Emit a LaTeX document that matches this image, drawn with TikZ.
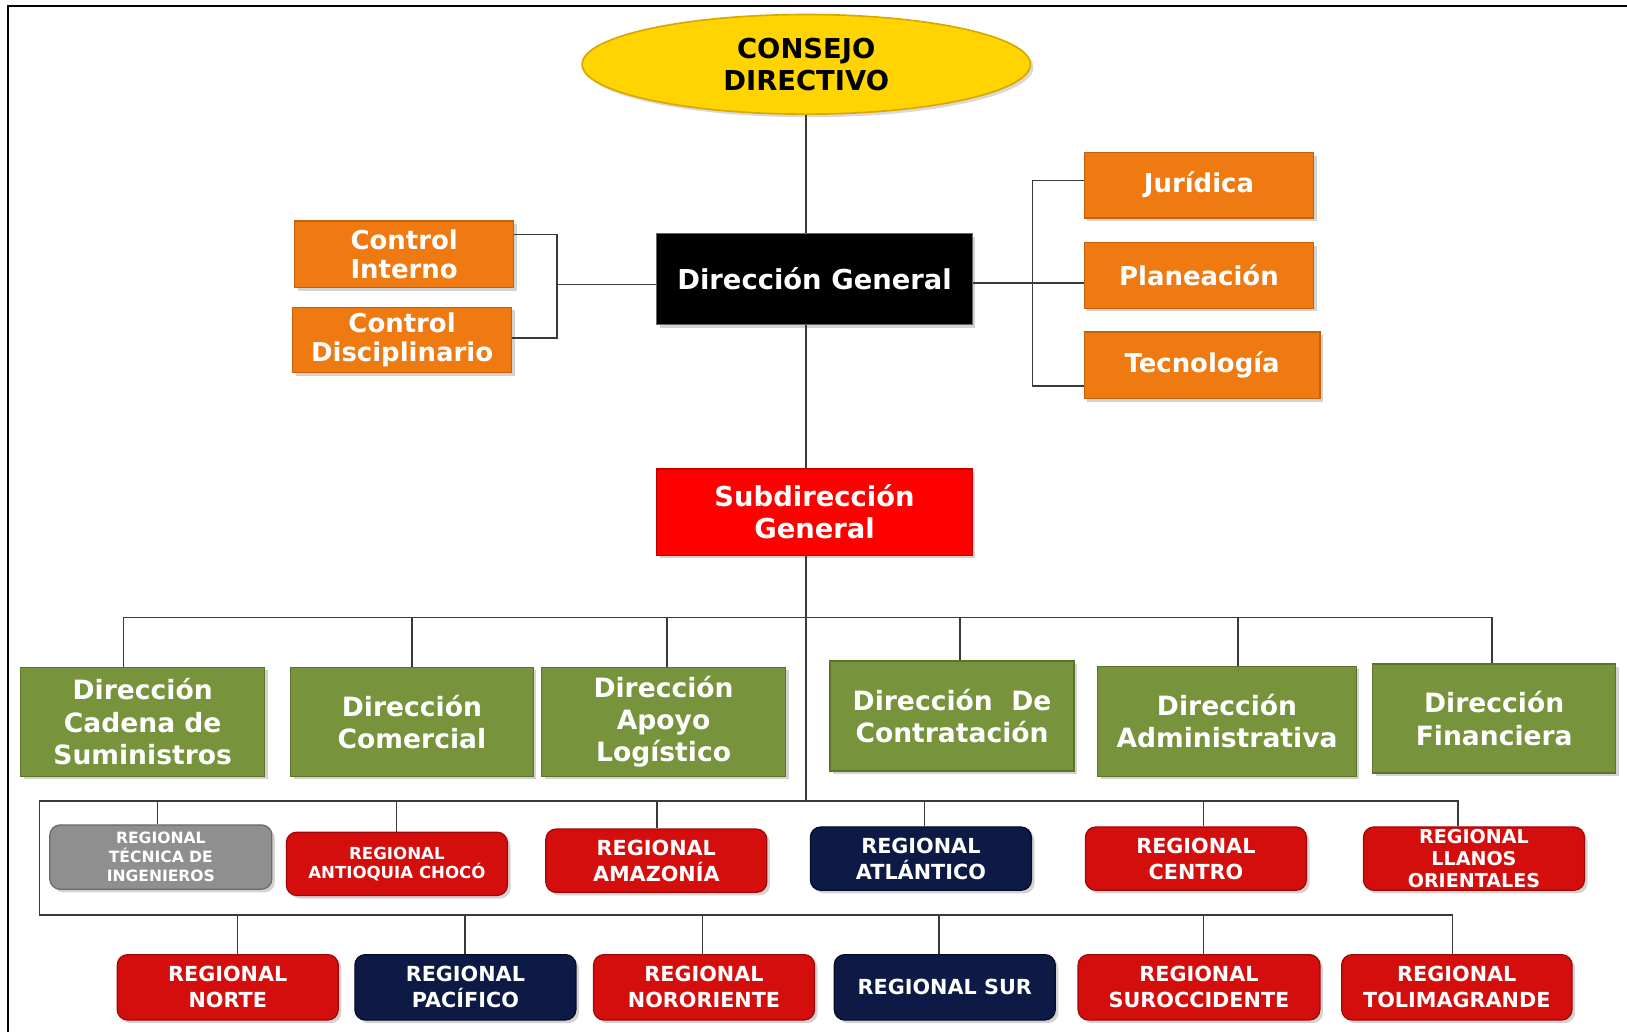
\documentclass[tikz,border=0pt]{standalone}
\usepackage{fontspec}
\setmainfont{DejaVu Sans}
\usetikzlibrary{shapes.geometric,shadows,calc}
\definecolor{grnF}{HTML}{77933C}
\definecolor{grnD}{HTML}{5A7428}
\definecolor{orgF}{HTML}{F07A12}
\definecolor{orgD}{HTML}{C8600A}
\definecolor{redF}{HTML}{FF0000}
\definecolor{redD}{HTML}{C00000}
\definecolor{regF}{HTML}{D40D0D}
\definecolor{regD}{HTML}{A00808}
\definecolor{navF}{HTML}{0C1A45}
\definecolor{navD}{HTML}{050C25}
\definecolor{gryF}{HTML}{8F8F8F}
\definecolor{gryD}{HTML}{6A6A6A}
\definecolor{yelF}{HTML}{FFD400}
\definecolor{yelD}{HTML}{D9A800}
\definecolor{lineC}{HTML}{3A3A3A}
\newcommand\bx[7]{\node[#2, minimum width={(#5-#3)*0.5pt}, minimum height={(#6-#4)*0.5pt}] (#1) at ({(#3+#5)/2},{(#4+#6)/2}) {#7};}
\tikzset{
  conn/.style={draw=lineC, line width=0.75pt},
  base/.style={draw, line width=0.6pt, align=center, inner sep=0pt, text=white,
    drop shadow={shadow xshift=1.5pt, shadow yshift=-1.5pt, opacity=0.35}},
  orgbox/.style={base, fill=orgF, draw=orgD, font=\bfseries\fontsize{12.5}{14}\selectfont},
  dgbox/.style={base, fill=black, draw=black!60, font=\bfseries\fontsize{13.2}{15.5}\selectfont},
  subbox/.style={base, fill=redF, draw=redD, font=\bfseries\fontsize{13.2}{15.5}\selectfont},
  grnbox/.style={base, fill=grnF, draw=grnD, font=\bfseries\fontsize{12.8}{15.5}\selectfont},
  regbase/.style={base, rounded corners=5pt, font=\bfseries\fontsize{10}{12.5}\selectfont},
  regred/.style={regbase, fill=regF, draw=regD},
  regnav/.style={regbase, fill=navF, draw=navD},
  reggry/.style={regbase, fill=gryF, draw=gryD},
  small/.style={font=\bfseries\fontsize{7.5}{9.2}\selectfont},
  smallb/.style={font=\bfseries\fontsize{8}{9}\selectfont},
  smallc/.style={font=\bfseries\fontsize{9.2}{10.75}\selectfont},
}
\begin{document}
\begin{tikzpicture}[x=0.5pt,y=-0.5pt]
\useasboundingbox (0,0) rectangle (1568,995);
% frame
\coordinate (fTL) at (8,6);
\coordinate (fTR) at (1568,6);
\coordinate (fBL) at (8,995);
\draw[black, line width=1.1pt] (fTR) -- (fTL) -- (fBL);

% top
\node[ellipse, draw=yelD, line width=0.8pt, fill=yelF, minimum width=432*0.5pt, minimum height=96*0.5pt,
  inner sep=0pt, align=center, font=\bfseries\fontsize{13.2}{15.5}\selectfont,
  drop shadow={shadow xshift=1.5pt, shadow yshift=-1.5pt, opacity=0.3}] (cons) at (777,62) {CONSEJO\\DIRECTIVO};
\bx{dg}{dgbox}{633}{225}{937}{313}{Dirección General}
\bx{ci}{orgbox}{284}{213}{495}{277}{Control\\Interno}
\bx{cd}{orgbox}{282}{296}{493}{359}{Control\\Disciplinario}
\bx{jur}{orgbox}{1045}{147}{1266}{210}{Jurídica}
\bx{pla}{orgbox}{1045}{234}{1266}{297}{Planeación}
\bx{tec}{orgbox}{1045}{320}{1272}{384}{Tecnología}
\bx{sub}{subbox}{633}{452}{937}{535}{Subdirección\\General}

% green row
\bx{dcad}{grnbox}{20}{643}{255}{748}{Dirección\\Cadena de\\Suministros}
\bx{dcom}{grnbox}{280}{643}{514}{748}{Dirección\\Comercial}
\bx{dapo}{grnbox}{522}{643}{757}{748}{Dirección\\Apoyo\\Logístico}
\bx{dcon}{grnbox}{800}{637}{1035}{743}{Dirección\ \ De\\Contratación}
\bx{dadm}{grnbox}{1058}{642}{1307}{748}{Dirección\\Administrativa}
\bx{dfin}{grnbox}{1323}{640}{1557}{745}{Dirección\\Financiera}

% regional row 1
\bx{rtec}{reggry,small}{48}{795}{262}{857}{REGIONAL\\TÉCNICA DE\\INGENIEROS}
\bx{rant}{regred,smallb}{276}{802}{489}{863}{REGIONAL\\ANTIOQUIA CHOCÓ}
\bx{rama}{regred}{526}{799}{739}{860}{REGIONAL\\AMAZONÍA}
\bx{ratl}{regnav}{781}{797}{994}{858}{REGIONAL\\ATLÁNTICO}
\bx{rcen}{regred}{1046}{797}{1259}{858}{REGIONAL\\CENTRO}
\bx{rlla}{regred,smallc}{1314}{797}{1527}{858}{REGIONAL\\LLANOS\\ORIENTALES}

% regional row 2
\bx{rnor}{regred}{113}{920}{326}{983}{REGIONAL\\NORTE}
\bx{rpac}{regnav}{342}{920}{555}{983}{REGIONAL\\PACÍFICO}
\bx{rnoro}{regred}{572}{920}{785}{983}{REGIONAL\\NORORIENTE}
\bx{rsur}{regnav}{804}{920}{1017}{983}{REGIONAL SUR}
\bx{rsuro}{regred}{1039}{920}{1272}{983}{REGIONAL\\SUROCCIDENTE}
\bx{rtol}{regred}{1293}{920}{1515}{983}{REGIONAL\\TOLIMAGRANDE}

% spine
\draw[conn] (cons.south) -- (cons.south |- dg.north);
\draw[conn] (cons.south |- dg.south) -- (cons.south |- sub.north);

% left bracket
\coordinate (lbT) at (537,226);
\coordinate (lbB) at (537,326);
\coordinate (lbM) at (537,274);
\draw[conn] (lbT -| ci.east) -- (lbT) -- (lbB) -- (lbB -| cd.east);
\draw[conn] (lbM) -- (lbM -| dg.west);

% right bracket
\coordinate (rbT) at (995,174);
\coordinate (rbM) at (995,273);
\coordinate (rbB) at (995,372);
\draw[conn] (rbT -| jur.west) -- (rbT) -- (rbB) -- (rbB -| tec.west);
\draw[conn] (rbM -| dg.east) -- (rbM -| pla.west);

% bus 1
\coordinate (b1L) at (119,595);
\coordinate (b1R) at (1438,595);
\coordinate (b2) at (777,772);
\draw[conn] (cons.south |- sub.south) -- (b2);
\draw[conn] (b1L) -- (b1R);
\coordinate (t1) at (119,595);
\coordinate (t2) at (397,595);
\coordinate (t3) at (643,595);
\coordinate (t4) at (925,595);
\coordinate (t5) at (1193,595);
\coordinate (t6) at (1438,595);
\draw[conn] (t1) -- (t1 |- dcad.north);
\draw[conn] (t2) -- (t2 |- dcom.north);
\draw[conn] (t3) -- (t3 |- dapo.north);
\draw[conn] (t4) -- (t4 |- dcon.north);
\draw[conn] (t5) -- (t5 |- dadm.north);
\draw[conn] (t6) -- (t6 |- dfin.north);

% bus 2 and 3
\coordinate (b2L) at (38,772);
\coordinate (b2R) at (1405,772);
\coordinate (b3L) at (38,882);
\coordinate (b3R) at (1400,882);
\draw[conn] (b3L) -- (b2L) -- (b2R) -- (b2R |- rlla.north);
\draw[conn] (b3L) -- (b3R) -- (b3R |- rtol.north);
\coordinate (u1) at (152,772);
\coordinate (u2) at (382,772);
\coordinate (u3) at (633,772);
\coordinate (u4) at (891,772);
\coordinate (u5) at (1160,772);
\draw[conn] (u1) -- (u1 |- rtec.north);
\draw[conn] (u2) -- (u2 |- rant.north);
\draw[conn] (u3) -- (u3 |- rama.north);
\draw[conn] (u4) -- (u4 |- ratl.north);
\draw[conn] (u5) -- (u5 |- rcen.north);
\coordinate (v1) at (229,882);
\coordinate (v2) at (448,882);
\coordinate (v3) at (677,882);
\coordinate (v4) at (905,882);
\coordinate (v5) at (1160,882);
\draw[conn] (v1) -- (v1 |- rnor.north);
\draw[conn] (v2) -- (v2 |- rpac.north);
\draw[conn] (v3) -- (v3 |- rnoro.north);
\draw[conn] (v4) -- (v4 |- rsur.north);
\draw[conn] (v5) -- (v5 |- rsuro.north);
\end{tikzpicture}
\end{document}
